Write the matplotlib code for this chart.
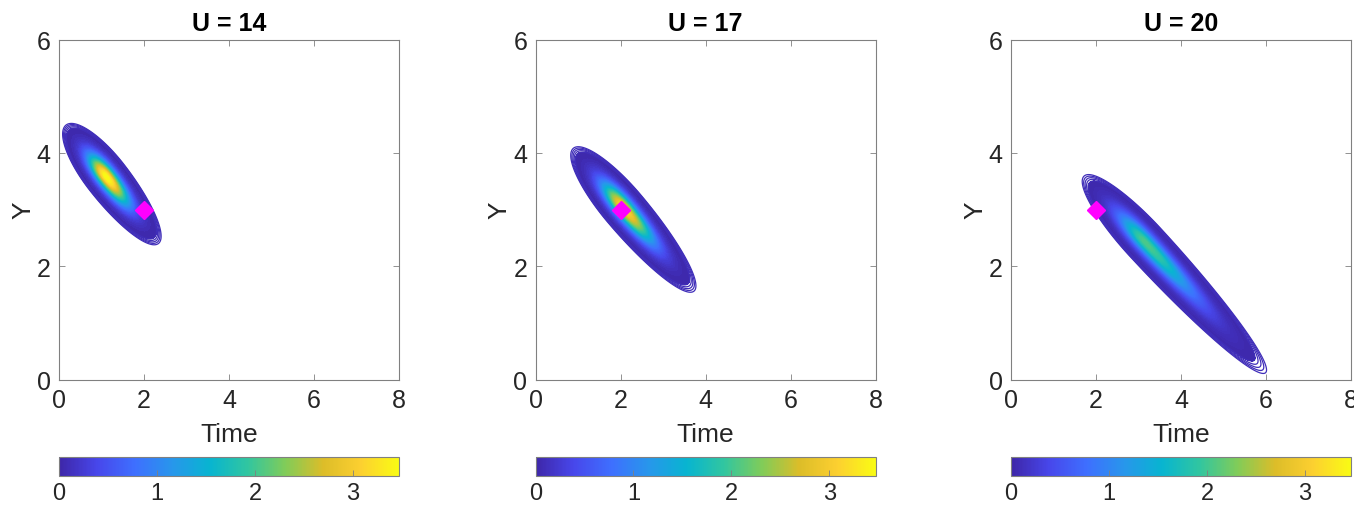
import numpy as np
import matplotlib
matplotlib.use('Agg')
import matplotlib.pyplot as plt
from matplotlib.colors import LinearSegmentedColormap, Normalize
from matplotlib.cm import ScalarMappable

plt.rcParams['font.family'] = ['Liberation Sans', 'DejaVu Sans']

# values
U_values = [14, 17, 20]
peak_t = [1.04, 2.02, 3.00]          # location of the density maximum
peak_y = [3.53, 2.98, 2.32]
peak_value = [3.47, 3.10, 2.05]
tip_start_t = [0.165, 0.89, 1.72]    # upper-left end of the outer contour
tip_start_y = [4.49, 4.08, 3.59]
tip_end_t = [2.34, 3.73, 5.99]       # lower-right end of the outer contour
tip_end_y = [2.40, 1.56, 0.12]
half_width = [0.063, 0.063, 0.061]   # half width of outer contour (axes fraction)
obs_t = 2.0
obs_y = 3.0
cbar_max = 3.47
cbar_ticks = [0, 1, 2, 3]

parula = LinearSegmentedColormap.from_list('parula', [
    (0.2422, 0.1504, 0.6603), (0.2803, 0.2782, 0.9221),
    (0.2440, 0.4358, 0.9988), (0.1540, 0.5902, 0.9218),
    (0.0297, 0.7082, 0.8163), (0.1938, 0.7758, 0.6251),
    (0.5044, 0.7993, 0.3480), (0.8634, 0.7406, 0.1596),
    (0.9892, 0.8136, 0.1885), (0.9769, 0.9839, 0.0805)], N=256)
norm = Normalize(0, cbar_max)

z_edge = 0.006
ring_step = 1.3
n_rings = 5

T, Y = np.meshgrid(np.linspace(0, 8, 1000), np.linspace(0, 6, 800))


def density(i):
    # split gaussian in axes-fraction space (axes are square on screen)
    u, v = T / 8., Y / 6.
    p = np.array([peak_t[i] / 8., peak_y[i] / 6.])
    a = np.array([tip_start_t[i] / 8., tip_start_y[i] / 6.])
    b = np.array([tip_end_t[i] / 8., tip_end_y[i] / 6.])
    d = (b - a) / np.hypot(*(b - a))
    n = np.array([-d[1], d[0]])
    # put the maximum on the line joining the two ends
    p = a + ((p - a) @ d) * d
    s = (u - p[0]) * d[0] + (v - p[1]) * d[1]
    m = (u - p[0]) * n[0] + (v - p[1]) * n[1]
    k = np.sqrt(2 * np.log(peak_value[i] / z_edge))
    sig_s = np.where(s < 0, ((p - a) @ d) / k, ((b - p) @ d) / k)
    sig_m = half_width[i] / k
    return peak_value[i] * np.exp(-0.5 * (s / sig_s)**2 - 0.5 * (m / sig_m)**2)


fig = plt.figure(figsize=(13.54, 5.06), dpi=100)
W, H = 1354., 506.
lefts = [59, 535.5, 1011]

for i, U in enumerate(U_values):
    ax = fig.add_axes([lefts[i] / W, (506 - 380.5) / H, 340 / W, 340 / H])
    Z = density(i)
    rings = z_edge * ring_step**np.arange(n_rings)
    fill_levels = np.linspace(rings[-1], peak_value[i], 80)
    ax.contourf(T, Y, Z, levels=fill_levels, cmap=parula, norm=norm)
    ax.contour(T, Y, Z, levels=rings, colors=[parula(0.03)], linewidths=0.9)
    ax.plot(obs_t, obs_y, 'D', color='magenta', ms=9, mec='magenta')
    ax.set_xlim(0, 8)
    ax.set_ylim(0, 6)
    ax.set_xticks([0, 2, 4, 6, 8])
    ax.set_yticks([0, 2, 4, 6])
    ax.tick_params(direction='in', length=4, width=0.6, top=True, right=True,
                   labelsize=18, colors='#808080', labelcolor='#262626', pad=6)
    for sp in ax.spines.values():
        sp.set_color('#808080')
        sp.set_linewidth(0.8)
    ax.set_xlabel('Time', fontsize=19, color='#262626', labelpad=7)
    ax.set_ylabel('Y', fontsize=19, color='#262626', labelpad=1)
    ax.set_title('U = %d' % U, fontsize=18, fontweight='bold', pad=7)

    cax = fig.add_axes([lefts[i] / W, (506 - 477) / H, 340 / W, 19 / H])
    cb = fig.colorbar(ScalarMappable(norm=norm, cmap=parula), cax=cax,
                      orientation='horizontal')
    cb.set_ticks(cbar_ticks)
    cb.outline.set_edgecolor('#808080')
    cb.outline.set_linewidth(0.8)
    cax.tick_params(direction='in', length=4, width=0.6, labelsize=17,
                    colors='#808080', labelcolor='#262626', pad=4)

fig.savefig('out.png', dpi=100)
